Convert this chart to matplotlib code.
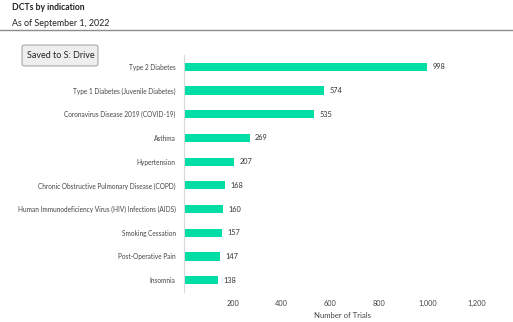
import matplotlib.pyplot as plt
from matplotlib.patches import FancyBboxPatch

categories = ['Type 2 Diabetes', 'Type 1 Diabetes (Juvenile Diabetes)',
              'Coronavirus Disease 2019 (COVID-19)', 'Asthma', 'Hypertension',
              'Chronic Obstructive Pulmonary Disease (COPD)',
              'Human Immunodeficiency Virus (HIV) Infections (AIDS)',
              'Smoking Cessation', 'Post-Operative Pain', 'Insomnia']
trials = [998, 574, 535, 269, 207, 168, 160, 157, 147, 138]
xticks = [200, 400, 600, 800, 1000, 1200]

plt.rcParams['font.family'] = ['Lato', 'DejaVu Sans']
W, H = 513, 322
fig = plt.figure(figsize=(W / 100, H / 100), dpi=100)

# header
fig.text(12 / W, 1 - 8 / H, 'DCTs by indication', fontsize=6.2, fontweight='bold',
         va='center', ha='left', color='#222222')
fig.text(12 / W, 1 - 23 / H, 'As of September 1, 2022', fontsize=6.4,
         va='center', ha='left', color='#222222')
fig.add_artist(plt.Line2D([0, 1], [1 - 30 / H, 1 - 30 / H], color='#8c8c8c', lw=1.0))

# button
btn = FancyBboxPatch((22 / W, 1 - 66 / H), 76 / W, 21 / H,
                     boxstyle='round,pad=0,rounding_size=0.006',
                     transform=fig.transFigure, facecolor='#eeeeee',
                     edgecolor='#a8a8a8', lw=0.8)
fig.add_artist(btn)
fig.text(61 / W, 1 - 55.5 / H, 'Saved to S: Drive', fontsize=6.5, ha='center',
         va='center', color='#222222')

ax = fig.add_axes([184 / W, 1 - 292 / H, 317 / W, 237 / H])
y = list(range(len(categories)))
ax.barh(y, trials, height=0.35, color='#00dea6')
for yi, v in zip(y, trials):
    ax.text(v + 22, yi, f'{v:,}', va='center', ha='left', fontsize=5.3, color='#333333')

ax.set_ylim(len(categories) - 0.5, -0.5)
ax.set_xlim(0, 1300)
ax.set_yticks(y)
ax.set_yticklabels(categories, fontsize=4.7, color='#444444')
ax.set_xticks(xticks)
ax.set_xticklabels([f'{t:,}' for t in xticks], fontsize=5.3, color='#444444')
ax.tick_params(length=0, pad=6)
ax.tick_params(axis='x', pad=6)
ax.set_xlabel('Number of Trials', fontsize=5.6, color='#444444', labelpad=3)
for s in ['top', 'right', 'bottom']:
    ax.spines[s].set_visible(False)
ax.spines['left'].set_color('#d9d9d9')
ax.spines['left'].set_linewidth(0.8)

fig.savefig('out.png', dpi=100)
